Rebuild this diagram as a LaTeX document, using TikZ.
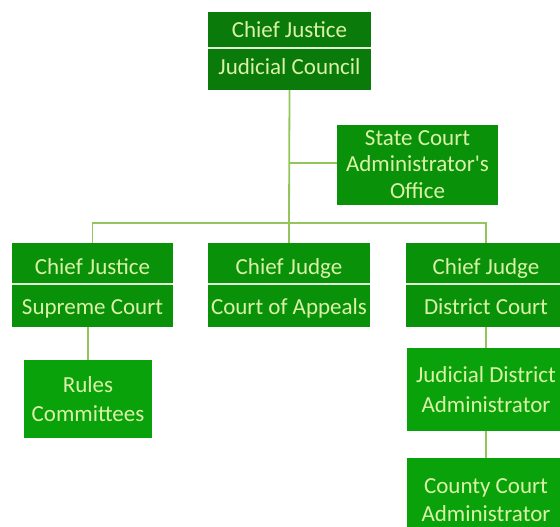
\documentclass[tikz,border=0pt]{standalone}
\usepackage{fontspec}
\setmainfont{Carlito}[Ligatures=TeXOff]
\begin{document}
\begin{tikzpicture}[x=1pt,y=-1pt,
  txt/.style={text=textgreen,font=\fontsize{23}{26.5}\selectfont,align=center,inner sep=0pt,outer sep=0pt},
  topbox/.style={txt,fill=darkgreen,minimum width=163},
  midbox/.style={txt,fill=midgreen},
  lowbox/.style={txt,fill=brightgreen,font=\fontsize{23}{29.5}\selectfont},
  upper/.style={text height=23pt,text depth=2pt},
  lower/.style={text height=20pt,text depth=3pt},
  link/.style={draw=linegreen,line width=1.8pt},
  sep/.style={draw=sepgreen,line width=1.8pt}]
\definecolor{darkgreen}{RGB}{10,122,10}
\definecolor{midgreen}{RGB}{10,145,10}
\definecolor{brightgreen}{RGB}{10,162,10}
\definecolor{textgreen}{RGB}{218,242,168}
\definecolor{linegreen}{RGB}{146,198,92}
\definecolor{sepgreen}{RGB}{225,245,215}
\useasboundingbox (0,0) rectangle (560,527);
\clip (0,0) rectangle (560,527);
% top box
\node[topbox,minimum height=36,text height=19pt,text depth=3pt] (cjA) at (289.5,30) {Chief Justice};
\node[topbox,minimum height=42,text height=17pt,text depth=5pt] (jc) at (289.5,69) {Judicial Council};
\draw[sep] (cjA.south west) -- (cjA.south east);
% state court administrator
\node[midbox,minimum width=161,minimum height=80] (scao) at (417.5,164.5) {State Court\\Administrator's\\Office};
% court boxes
\node[midbox,upper,minimum width=161,minimum height=41] (cjB) at (92.5,263.5) {Chief Justice};
\node[midbox,lower,minimum width=161,minimum height=43] (sc) at (92.5,305.5) {Supreme Court};
\draw[sep] (cjB.south west) -- (cjB.south east);
\node[midbox,upper,minimum width=162,minimum height=41] (cjgA) at (289,263.5) {Chief Judge};
\node[midbox,lower,minimum width=162,minimum height=43] (ca) at (289,305.5) {Court of Appeals};
\draw[sep] (cjgA.south west) -- (cjgA.south east);
\node[midbox,upper,minimum width=160,minimum height=41] (cjgB) at (486,263.5) {Chief Judge};
\node[midbox,lower,minimum width=160,minimum height=43] (dc) at (486,305.5) {District Court};
\draw[sep] (cjgB.south west) -- (cjgB.south east);
% lower boxes
\node[lowbox,minimum width=128,minimum height=78] (rc) at (88,399) {Rules\\Committees};
\node[lowbox,minimum width=158,minimum height=83] (jda) at (486,389.5) {Judicial District\\Administrator};
\node[lowbox,minimum width=158,minimum height=84,font=\fontsize{23}{28.5}\selectfont] (cca) at (486,500) {County Court\\Administrator};
% connectors
\coordinate (bus) at (289,223);
\coordinate (tee) at (289,163);
\draw[link] (jc.south) -- (bus);
\draw[link] (tee) -- (scao.west |- tee);
\draw[link] (cjB.north) |- (bus) -| (cjgB.north);
\draw[link] (bus) -- (cjgA.north);
\draw[link] (sc.south -| rc.north) -- (rc.north);
\draw[link] (dc.south) -- (jda.north);
\draw[link] (jda.south) -- (cca.north);
\end{tikzpicture}
\end{document}
